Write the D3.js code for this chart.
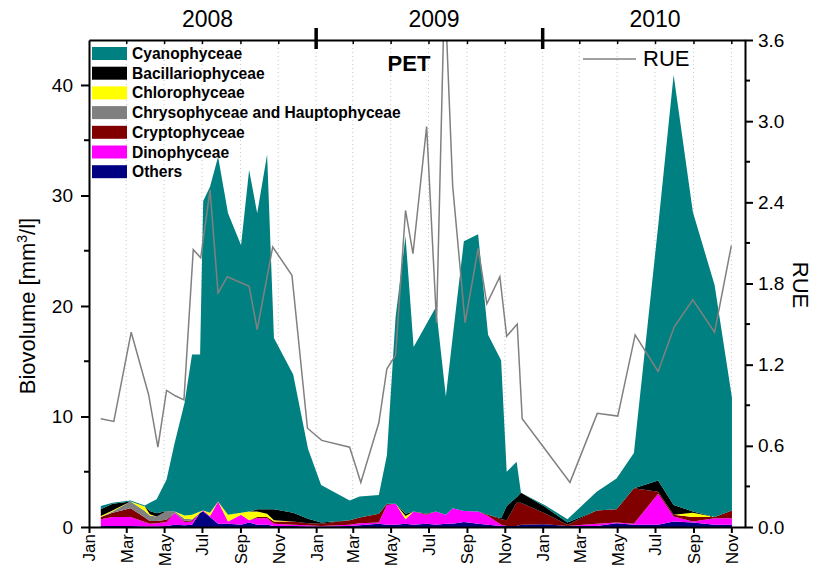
<!DOCTYPE html>
<html>
<head>
<meta charset="utf-8">
<script src="https://cdn.jsdelivr.net/npm/d3@7"></script>
<style>
  body { margin: 0; background: #fff; }
  text { font-family: "Liberation Sans", Arial, sans-serif; }
</style>
</head>
<body>
<svg width="818" height="567"></svg>
<script>
// sampling dates of the phytoplankton biovolume
const bioDates = ['2008-01-20','2008-02-08','2008-03-08','2008-03-31','2008-04-08','2008-04-19','2008-05-05','2008-05-18',
  '2008-06-03','2008-06-15','2008-06-28','2008-07-03','2008-07-14','2008-07-27','2008-08-12','2008-09-02','2008-09-15',
  '2008-09-28','2008-10-14','2008-10-25','2008-11-25','2008-12-19',
  '2009-01-09','2009-02-24','2009-03-12','2009-04-12','2009-04-25','2009-05-09','2009-05-25','2009-06-07','2009-06-28',
  '2009-07-13','2009-07-29','2009-08-09','2009-08-27','2009-09-19','2009-10-05','2009-10-26','2009-11-04','2009-11-20','2009-11-27',
  '2010-01-04','2010-02-10','2010-03-29','2010-04-30','2010-05-28','2010-07-06','2010-07-31','2010-08-31','2010-10-05','2010-11-02'];

const others = [0.1,0.1,0.1,0.05,0.05,0.05,0.1,0.2,0.15,0.2,1.3,1.4,0.9,0.3,0.3,0.2,0.4,0.2,0.2,0.1,0.1,0.05,
  0.05,0.1,0.15,0.3,0.2,0.2,0.3,0.2,0.3,0.2,0.3,0.3,0.45,0.3,0.2,0.1,0.1,0.1,0.2,
  0.25,0.1,0.1,0.35,0.2,0.2,0.5,0.4,0.2,0.2];
const dino = [0.6,0.8,0.8,0.4,0.25,0.3,0.35,1.1,0.3,0.3,0,0.1,0.1,2.0,0.2,0.9,0.2,0.6,0.6,0.2,0.1,0.1,
  0.05,0.1,0.2,0.1,1.8,1.9,0.4,1.2,0.8,1.2,0.8,1.4,1.0,1.1,0.8,0.1,0,0,0,
  0,0,0.2,0.05,0.1,2.8,0.45,0.1,0.6,0.6];
const crypto = [0.2,0.4,0.8,0.4,0.25,0.2,0.2,0,0.1,0.1,0,0,0,0,0,0,0,0.1,0.1,0.2,0.3,0.2,
  0.2,0.4,0.5,0.8,0.1,0,0,0,0.1,0,0,0,0,0,0.1,0.5,0.5,2.1,2.0,
  1.0,0.1,1.2,1.2,3.2,0.2,0.15,0.4,0.1,0.7];
const chryso = [0,0.1,0.6,0.6,0.5,0.4,0.8,0.1,0.2,0.1,0,0,0,0,0,0,0,0,0,0,0,0,
  0,0,0,0,0,0,0,0,0,0,0,0,0,0,0,0,0,0,0,
  0,0,0,0,0,0,0,0,0,0];
const chloro = [0.1,0.1,0,0.4,0.1,0,0,0,0.3,0.4,0.1,0,0.3,0,0.6,0.2,0.8,0.5,0.3,0.1,0,0,
  0,0,0,0,0,0,0.3,0,0,0,0,0,0,0,0,0,0,0,0,
  0,0,0,0,0,0,0,0.4,0,0];
const bacill = [0.6,0.6,0,0,0.3,0.3,0,0,0,0,0,0,0,0,0,0,0,0.2,0.4,1.0,0.8,0.4,
  0.1,0,0,0,0,0,0.2,0,0,0,0,0,0,0,0,0.1,1.3,0.5,0.9,
  0.6,0.2,0,0,0,1.0,0.9,0.1,0,0];
const cyano = [0.3,0.1,0.1,0.1,0.75,1.25,2.85,6.2,10.2,14.5,14.2,28.0,29.5,31.2,27.3,24.2,30.9,26.8,32.1,15.5,12.5,6.3,
  3.4,1.8,1.9,1.7,4.4,16.9,25.1,14.9,17.2,18.5,10.7,15.5,24.4,25.1,16.3,14.3,3.1,3.2,0,
  0.15,0.3,1.7,2.8,3.2,23.0,38.9,27.1,21.0,10.2];

// RUE series
const rueDates = ['2008-01-20','2008-02-10','2008-03-09','2008-04-06','2008-04-21','2008-05-05','2008-05-19','2008-06-02',
  '2008-06-17','2008-06-29','2008-07-14','2008-07-27','2008-08-11','2008-09-15','2008-09-28','2008-10-23','2008-11-23','2008-12-18',
  '2009-01-10','2009-02-24','2009-03-14','2009-04-12','2009-04-25','2009-05-09','2009-05-25','2009-06-06','2009-06-28',
  '2009-07-14','2009-07-27','2009-08-09','2009-08-29','2009-09-19','2009-10-03','2009-10-24','2009-11-04','2009-11-21','2009-11-29',
  '2010-01-04','2010-02-14','2010-03-30','2010-05-02','2010-05-30','2010-07-06','2010-08-01','2010-08-31','2010-10-05','2010-11-01'];
const rue = [0.80,0.78,1.44,0.98,0.59,1.01,0.97,0.94,2.05,1.99,2.49,1.73,1.85,1.78,1.46,2.07,1.86,0.73,
  0.64,0.59,0.33,0.77,1.17,1.27,2.34,2.02,2.96,1.51,4.0,2.52,1.51,2.06,1.65,1.85,1.41,1.50,0.80,
  0.58,0.33,0.84,0.82,1.42,1.15,1.48,1.68,1.44,2.08];

const groups = ['Others','Dinophyceae','Cryptophyceae','Chrysophyceae and Hauptophyceae','Chlorophyceae','Bacillariophyceae','Cyanophyceae'];
const groupColors = ['#000080','#ff00ff','#800000','#808080','#ffff00','#000000','#008080'];
const yearLabels = [['2008','2008-07-10'],['2009','2009-07-10'],['2010','2010-07-01']];
const bioTicks = [0,10,20,30,40];
const bioMinor = [5,15,25,35];
const rueTicks = [0,0.6,1.2,1.8,2.4,3.0,3.6];
const rueMinor = [0.3,0.9,1.5,2.1,2.7,3.3];

(function (d3) {
    const svg = d3.select('svg');
    const parse = d3.timeParse('%Y-%m-%d');

    const left = 89, right = 745, top = 40, bottom = 527;

    const x = d3.scaleTime()
        .domain([parse('2008-01-01'), parse('2010-11-23')])
        .range([left, right]);
    const y = d3.scaleLinear().domain([0, 44.07]).range([bottom, top]);
    const yR = d3.scaleLinear().domain([0, 3.6]).range([bottom, top]);

    const series = [others, dino, crypto, chryso, chloro, bacill, cyano];
    const rows = bioDates.map((d, i) => {
        const r = {date: parse(d)};
        groups.forEach((g, k) => r[g] = series[k][i]);
        return r;
    });
    const stacked = d3.stack().keys(groups)(rows);

    svg.append('clipPath').attr('id', 'plot')
      .append('rect')
        .attr('x', left).attr('y', top)
        .attr('width', right - left).attr('height', bottom - top);

    // dotted grid every two months
    const monthTicks = x.ticks(d3.timeMonth.every(2));
    svg.append('g').selectAll('line')
      .data(monthTicks.filter(t => x(t) > left + 1))
      .join('line')
        .attr('x1', d => x(d)).attr('x2', d => x(d))
        .attr('y1', top).attr('y2', bottom)
        .attr('stroke', '#c8c8c8')
        .attr('stroke-dasharray', '1,3');

    const area = d3.area()
        .x(d => x(d.data.date))
        .y0(d => y(d[0]))
        .y1(d => y(d[1]));

    svg.append('g').attr('clip-path', 'url(#plot)')
      .selectAll('path')
      .data(stacked)
      .join('path')
        .attr('d', area)
        .attr('fill', (d, i) => groupColors[i]);

    const rueLine = d3.line()
        .x((d, i) => x(parse(rueDates[i])))
        .y(d => yR(d));

    svg.append('path')
        .attr('clip-path', 'url(#plot)')
        .attr('d', rueLine(rue))
        .attr('fill', 'none')
        .attr('stroke', '#808080')
        .attr('stroke-width', 1.5);

    // left axis
    const gL = svg.append('g').attr('transform', `translate(${left},0)`);
    gL.call(d3.axisLeft(y).tickValues(bioTicks).tickSize(8).tickSizeOuter(0).tickPadding(8));
    bioMinor.forEach(v => gL.append('line')
        .attr('x1', -5).attr('x2', 0).attr('y1', y(v)).attr('y2', y(v))
        .attr('stroke', '#000').attr('stroke-width', 2));

    // right axis
    const gR = svg.append('g').attr('transform', `translate(${right},0)`);
    gR.call(d3.axisRight(yR).tickValues(rueTicks).tickFormat(d3.format('.1f'))
        .tickSize(8).tickSizeOuter(0).tickPadding(5));
    rueMinor.forEach(v => gR.append('line')
        .attr('x1', 0).attr('x2', 5).attr('y1', yR(v)).attr('y2', yR(v))
        .attr('stroke', '#000').attr('stroke-width', 2));

    [gL, gR].forEach(g => {
        g.select('.domain').attr('stroke-width', 2);
        g.selectAll('.tick line').attr('stroke-width', 2);
        g.selectAll('.tick text').attr('font-size', 19).attr('fill', '#000')
            .attr('font-family', '"Liberation Sans", Arial, sans-serif');
    });

    // bottom axis
    const gB = svg.append('g').attr('transform', `translate(0,${bottom})`);
    gB.call(d3.axisBottom(x).tickValues(monthTicks).tickFormat(d3.timeFormat('%b'))
        .tickSize(6).tickSizeOuter(0));
    gB.select('.domain').attr('stroke-width', 2);
    gB.selectAll('.tick line').attr('stroke-width', 2);
    gB.selectAll('.tick text')
        .attr('font-size', 17).attr('fill', '#000')
        .attr('font-family', '"Liberation Sans", Arial, sans-serif')
        .attr('transform', 'rotate(-90)')
        .attr('text-anchor', 'end')
        .attr('x', -7).attr('y', 0).attr('dy', '0.35em');

    // top axis
    const gT = svg.append('g').attr('transform', `translate(0,${top})`);
    gT.call(d3.axisTop(x).tickValues(monthTicks.filter(t => t.getMonth() !== 0))
        .tickSize(-4).tickSizeOuter(0).tickFormat(''));
    gT.select('.domain').attr('stroke-width', 2);
    gT.selectAll('.tick line').attr('stroke-width', 1.5);
    gT.selectAll('.year')
      .data(monthTicks.filter(t => t.getMonth() === 0 && x(t) > left + 1))
      .join('line')
        .attr('x1', d => x(d)).attr('x2', d => x(d))
        .attr('y1', -12).attr('y2', 9)
        .attr('stroke', '#000').attr('stroke-width', 3.5);

    svg.append('g').selectAll('text')
      .data(yearLabels)
      .join('text')
        .attr('x', d => x(parse(d[1])))
        .attr('y', 27)
        .attr('text-anchor', 'middle')
        .attr('font-size', 23)
        .text(d => d[0]);

    svg.append('text')
        .attr('x', 409).attr('y', 71)
        .attr('text-anchor', 'middle')
        .attr('font-size', 22).attr('font-weight', 'bold')
        .text('PET');

    // axis titles
    const yTitle = svg.append('text')
        .attr('transform', 'translate(35,306) rotate(-90)')
        .attr('text-anchor', 'middle')
        .attr('font-size', 22);
    yTitle.append('tspan').text('Biovolume [mm');
    yTitle.append('tspan').attr('font-size', 14).attr('dy', -8).text('3');
    yTitle.append('tspan').attr('dy', 8).text('/l]');

    svg.append('text')
        .attr('transform', 'translate(793,285) rotate(90)')
        .attr('text-anchor', 'middle')
        .attr('font-size', 22)
        .text('RUE');

    // legend
    const legend = svg.append('g').attr('transform', 'translate(92,47)');
    const legendItems = legend.selectAll('g')
      .data(groups.slice().reverse())
      .join('g')
        .attr('transform', (d, i) => `translate(0, ${i * 19.7})`);
    legendItems.append('rect')
        .attr('width', 35).attr('height', 13)
        .attr('fill', (d, i) => groupColors[groups.length - 1 - i]);
    legendItems.append('text')
        .attr('x', 40).attr('y', 12)
        .attr('font-size', 15.6).attr('font-weight', 'bold')
        .text(d => d);

    svg.append('line')
        .attr('x1', 583).attr('x2', 636).attr('y1', 59).attr('y2', 59)
        .attr('stroke', '#808080').attr('stroke-width', 1.5);
    svg.append('text')
        .attr('x', 643).attr('y', 66)
        .attr('font-size', 22)
        .text('RUE');
}(d3));
</script>
</body>
</html>
